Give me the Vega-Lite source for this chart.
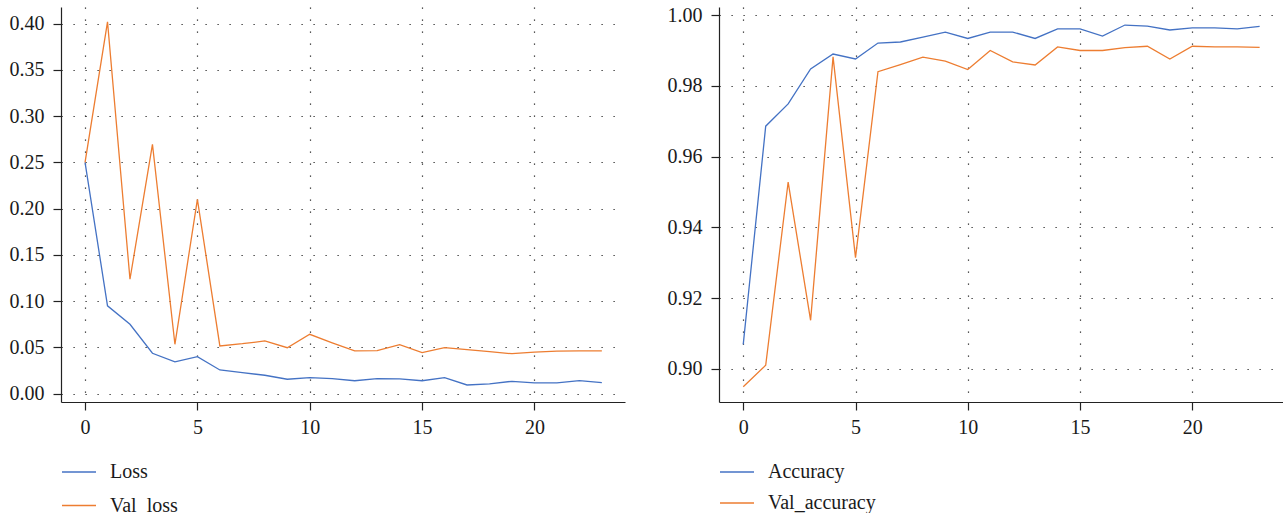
{
  "$schema": "https://vega.github.io/schema/vega-lite/v6.json",
  "padding": {"left": 5, "top": 5, "right": 0, "bottom": 0},
  "background": "white",
  "datasets": {
    "loss": [
      {"epoch": 0, "series": "Loss", "value": 0.25},
      {"epoch": 1, "series": "Loss", "value": 0.095},
      {"epoch": 2, "series": "Loss", "value": 0.075},
      {"epoch": 3, "series": "Loss", "value": 0.0437},
      {"epoch": 4, "series": "Loss", "value": 0.0343},
      {"epoch": 5, "series": "Loss", "value": 0.040},
      {"epoch": 6, "series": "Loss", "value": 0.0256},
      {"epoch": 7, "series": "Loss", "value": 0.0227},
      {"epoch": 8, "series": "Loss", "value": 0.0199},
      {"epoch": 9, "series": "Loss", "value": 0.0156},
      {"epoch": 10, "series": "Loss", "value": 0.0173},
      {"epoch": 11, "series": "Loss", "value": 0.0162},
      {"epoch": 12, "series": "Loss", "value": 0.014},
      {"epoch": 13, "series": "Loss", "value": 0.0162},
      {"epoch": 14, "series": "Loss", "value": 0.0159},
      {"epoch": 15, "series": "Loss", "value": 0.014},
      {"epoch": 16, "series": "Loss", "value": 0.0173},
      {"epoch": 17, "series": "Loss", "value": 0.0094},
      {"epoch": 18, "series": "Loss", "value": 0.0105},
      {"epoch": 19, "series": "Loss", "value": 0.0134},
      {"epoch": 20, "series": "Loss", "value": 0.0116},
      {"epoch": 21, "series": "Loss", "value": 0.0116},
      {"epoch": 22, "series": "Loss", "value": 0.014},
      {"epoch": 23, "series": "Loss", "value": 0.012},
      {"epoch": 0, "series": "Val_loss", "value": 0.25},
      {"epoch": 1, "series": "Val_loss", "value": 0.402},
      {"epoch": 2, "series": "Val_loss", "value": 0.1237},
      {"epoch": 3, "series": "Val_loss", "value": 0.2696},
      {"epoch": 4, "series": "Val_loss", "value": 0.0534},
      {"epoch": 5, "series": "Val_loss", "value": 0.210},
      {"epoch": 6, "series": "Val_loss", "value": 0.0516},
      {"epoch": 7, "series": "Val_loss", "value": 0.054},
      {"epoch": 8, "series": "Val_loss", "value": 0.057},
      {"epoch": 9, "series": "Val_loss", "value": 0.0497},
      {"epoch": 10, "series": "Val_loss", "value": 0.0642},
      {"epoch": 11, "series": "Val_loss", "value": 0.055},
      {"epoch": 12, "series": "Val_loss", "value": 0.0462},
      {"epoch": 13, "series": "Val_loss", "value": 0.0465},
      {"epoch": 14, "series": "Val_loss", "value": 0.053},
      {"epoch": 15, "series": "Val_loss", "value": 0.0443},
      {"epoch": 16, "series": "Val_loss", "value": 0.0497},
      {"epoch": 17, "series": "Val_loss", "value": 0.0476},
      {"epoch": 18, "series": "Val_loss", "value": 0.0454},
      {"epoch": 19, "series": "Val_loss", "value": 0.0432},
      {"epoch": 20, "series": "Val_loss", "value": 0.045},
      {"epoch": 21, "series": "Val_loss", "value": 0.046},
      {"epoch": 22, "series": "Val_loss", "value": 0.0462},
      {"epoch": 23, "series": "Val_loss", "value": 0.0462}
    ],
    "acc": [
      {"epoch": 0, "series": "Accuracy", "value": 0.9069},
      {"epoch": 1, "series": "Accuracy", "value": 0.9686},
      {"epoch": 2, "series": "Accuracy", "value": 0.9749},
      {"epoch": 3, "series": "Accuracy", "value": 0.9848},
      {"epoch": 4, "series": "Accuracy", "value": 0.989},
      {"epoch": 5, "series": "Accuracy", "value": 0.9876},
      {"epoch": 6, "series": "Accuracy", "value": 0.9921},
      {"epoch": 7, "series": "Accuracy", "value": 0.9924},
      {"epoch": 8, "series": "Accuracy", "value": 0.9938},
      {"epoch": 9, "series": "Accuracy", "value": 0.9952},
      {"epoch": 10, "series": "Accuracy", "value": 0.9934},
      {"epoch": 11, "series": "Accuracy", "value": 0.9952},
      {"epoch": 12, "series": "Accuracy", "value": 0.9952},
      {"epoch": 13, "series": "Accuracy", "value": 0.9934},
      {"epoch": 14, "series": "Accuracy", "value": 0.9961},
      {"epoch": 15, "series": "Accuracy", "value": 0.9961},
      {"epoch": 16, "series": "Accuracy", "value": 0.9941},
      {"epoch": 17, "series": "Accuracy", "value": 0.9972},
      {"epoch": 18, "series": "Accuracy", "value": 0.9969},
      {"epoch": 19, "series": "Accuracy", "value": 0.9958},
      {"epoch": 20, "series": "Accuracy", "value": 0.9964},
      {"epoch": 21, "series": "Accuracy", "value": 0.9964},
      {"epoch": 22, "series": "Accuracy", "value": 0.9961},
      {"epoch": 23, "series": "Accuracy", "value": 0.9968},
      {"epoch": 0, "series": "Val_accuracy", "value": 0.8949},
      {"epoch": 1, "series": "Val_accuracy", "value": 0.901},
      {"epoch": 2, "series": "Val_accuracy", "value": 0.9528},
      {"epoch": 3, "series": "Val_accuracy", "value": 0.9137},
      {"epoch": 4, "series": "Val_accuracy", "value": 0.9882},
      {"epoch": 5, "series": "Val_accuracy", "value": 0.9314},
      {"epoch": 6, "series": "Val_accuracy", "value": 0.984},
      {"epoch": 7, "series": "Val_accuracy", "value": 0.986},
      {"epoch": 8, "series": "Val_accuracy", "value": 0.9881},
      {"epoch": 9, "series": "Val_accuracy", "value": 0.987},
      {"epoch": 10, "series": "Val_accuracy", "value": 0.9846},
      {"epoch": 11, "series": "Val_accuracy", "value": 0.99},
      {"epoch": 12, "series": "Val_accuracy", "value": 0.9868},
      {"epoch": 13, "series": "Val_accuracy", "value": 0.9859},
      {"epoch": 14, "series": "Val_accuracy", "value": 0.991},
      {"epoch": 15, "series": "Val_accuracy", "value": 0.99},
      {"epoch": 16, "series": "Val_accuracy", "value": 0.99},
      {"epoch": 17, "series": "Val_accuracy", "value": 0.9908},
      {"epoch": 18, "series": "Val_accuracy", "value": 0.9912},
      {"epoch": 19, "series": "Val_accuracy", "value": 0.9876},
      {"epoch": 20, "series": "Val_accuracy", "value": 0.9912},
      {"epoch": 21, "series": "Val_accuracy", "value": 0.991},
      {"epoch": 22, "series": "Val_accuracy", "value": 0.991},
      {"epoch": 23, "series": "Val_accuracy", "value": 0.9909}
    ]
  },
  "config": {
    "font": "Liberation Serif",
    "view": {"stroke": null},
    "axis": {
      "labelFont": "Liberation Serif",
      "labelFontSize": 20,
      "labelColor": "#1a1a1a",
      "domainColor": "#222222",
      "domainWidth": 1.2,
      "tickColor": "#222222",
      "tickWidth": 1.2,
      "tickSize": 8,
      "labelPadding": 7,
      "grid": true,
      "gridColor": "#222222",
      "gridWidth": 1.2,
      "gridDash": [1.2, 10.8],
      "gridOpacity": 1,
      "title": null
    },
    "axisY": {"labelPadding": 9},
    "legend": {
      "labelFont": "Liberation Serif",
      "labelFontSize": 20,
      "labelColor": "#1a1a1a",
      "symbolType": "stroke",
      "symbolSize": 1156,
      "symbolStrokeWidth": 1.5,
      "labelOffset": 13,
      "rowPadding": 5.5,
      "padding": 0,
      "title": null
    },
    "line": {"strokeWidth": 1.3}
  },
  "resolve": {"scale": {"color": "independent"}, "legend": {"color": "independent"}},
  "spacing": 38,
  "hconcat": [
    {
      "width": 564,
      "height": 395,
      "data": {"name": "loss"},
      "mark": {"type": "line"},
      "encoding": {
        "x": {"field": "epoch", "type": "quantitative",
              "scale": {"domain": [-1.07, 24.03], "nice": false, "zero": false},
              "axis": {"values": [0, 5, 10, 15, 20], "format": "d"}},
        "y": {"field": "value", "type": "quantitative",
              "scale": {"domain": [-0.009, 0.418], "nice": false, "zero": false},
              "axis": {"values": [0, 0.05, 0.1, 0.15, 0.2, 0.25, 0.3, 0.35, 0.4], "format": ".2f", "minExtent": 56, "maxExtent": 56}},
        "color": {"field": "series", "type": "nominal",
                  "scale": {"domain": ["Loss", "Val_loss"], "range": ["#4472C4", "#ED7D31"]},
                  "legend": {"orient": "none", "legendX": 0, "legendY": 447, "direction": "vertical"}}
      }
    },
    {
      "width": 564,
      "height": 395,
      "data": {"name": "acc"},
      "mark": {"type": "line"},
      "encoding": {
        "x": {"field": "epoch", "type": "quantitative",
              "scale": {"domain": [-1.08, 24.04], "nice": false, "zero": false},
              "axis": {"values": [0, 5, 10, 15, 20], "format": "d"}},
        "y": {"field": "value", "type": "quantitative",
              "scale": {"domain": [0.8906, 1.0023], "nice": false, "zero": false},
              "axis": {"values": [0.9, 0.92, 0.94, 0.96, 0.98, 1.0], "format": ".2f", "minExtent": 56, "maxExtent": 56}},
        "color": {"field": "series", "type": "nominal",
                  "scale": {"domain": ["Accuracy", "Val_accuracy"], "range": ["#4472C4", "#ED7D31"]},
                  "legend": {"orient": "none", "legendX": 0, "legendY": 447, "direction": "vertical", "rowPadding": 3}}
      }
    }
  ]
}
